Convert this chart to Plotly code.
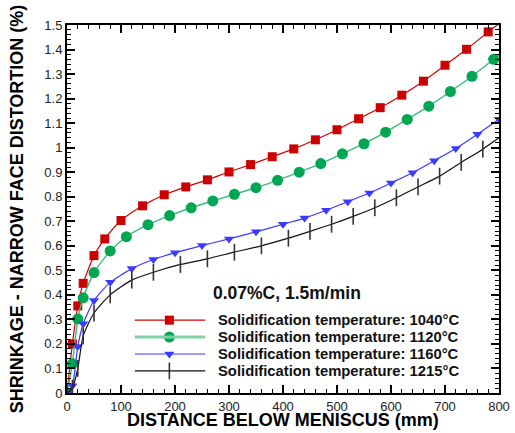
import plotly.graph_objects as go

# ---------------- data ----------------
x_1040 = [0, 10, 20, 30, 50, 70, 100, 140, 180, 220, 260, 300, 340, 380, 420, 460, 500, 540, 580, 620, 660, 700, 740, 780, 800]
y_1040 = [0, 0.20, 0.355, 0.447, 0.56, 0.628, 0.703, 0.763, 0.808, 0.84, 0.869, 0.901, 0.931, 0.963, 0.995, 1.032, 1.073, 1.118, 1.163, 1.214, 1.271, 1.336, 1.401, 1.472, 1.505]

x_1120 = [0, 10, 20, 30, 50, 80, 110, 150, 190, 230, 270, 310, 350, 390, 430, 470, 510, 550, 590, 630, 670, 710, 750, 790, 800]
y_1120 = [0, 0.12, 0.302, 0.388, 0.491, 0.579, 0.637, 0.686, 0.723, 0.755, 0.783, 0.81, 0.837, 0.867, 0.90, 0.935, 0.975, 1.016, 1.063, 1.115, 1.169, 1.229, 1.291, 1.36, 1.377]

x_1160 = [0, 10, 20, 30, 50, 80, 120, 160, 200, 250, 300, 350, 400, 440, 480, 520, 560, 600, 640, 680, 720, 760, 800]
y_1160 = [0, 0.03, 0.19, 0.282, 0.377, 0.451, 0.507, 0.544, 0.572, 0.601, 0.628, 0.657, 0.688, 0.713, 0.745, 0.78, 0.815, 0.856, 0.898, 0.947, 0.997, 1.055, 1.116]

x_1215 = [0, 10, 20, 30, 50, 80, 120, 160, 210, 260, 310, 360, 410, 450, 490, 530, 570, 610, 650, 690, 730, 770, 800]
y_1215 = [0, 0.02, 0.10, 0.233, 0.326, 0.40, 0.46, 0.492, 0.524, 0.547, 0.574, 0.60, 0.631, 0.659, 0.688, 0.72, 0.755, 0.796, 0.84, 0.884, 0.94, 0.994, 1.04]

series_names = [
    "Solidification temperature: 1040°C",
    "Solidification temperature: 1120°C",
    "Solidification temperature: 1160°C",
    "Solidification temperature: 1215°C",
]
y_tickvals = [0, 0.1, 0.2, 0.3, 0.4, 0.5, 0.6, 0.7, 0.8, 0.9, 1.0, 1.1, 1.2, 1.3, 1.4, 1.5]
y_ticktext = ["0", "0.1", "0.2", "0.3", "0.4", "0.5", "0.6", "0.7", "0.8", "0.9", "1", "1.1", "1.2", "1.3", "1.4", "1.5"]
x_tickvals = [0, 100, 200, 300, 400, 500, 600, 700, 800]
annotation_text = "0.07%C, 1.5m/min"
x_title = "DISTANCE BELOW MENISCUS (mm)"
y_title = "SHRINKAGE - NARROW FACE DISTORTION (%)"

# ---------------- styles ----------------
styles = [
    dict(line=dict(color="#D40000", width=1.2), leg_line=dict(color="#D40000", width=1.2),
         marker=dict(symbol="square", size=9, color="#CC0000")),
    dict(line=dict(color="#3DBB7A", width=1.4), leg_line=dict(color="#7ED3A2", width=3),
         marker=dict(symbol="circle", size=11, color="#00A651")),
    dict(line=dict(color="#3B3BFF", width=1.2), leg_line=dict(color="#3B3BFF", width=1.2),
         marker=dict(symbol="triangle-down", size=9, color="#3B3BFF")),
    dict(line=dict(color="#111111", width=1.2), leg_line=dict(color="#111111", width=1.2),
         marker=dict(symbol="line-ns", size=12, color="#333333", line=dict(color="#333333", width=1.6))),
]
series = [(x_1040, y_1040), (x_1120, y_1120), (x_1160, y_1160), (x_1215, y_1215)]
end_without_symbol = [True, True, False, True]

FONT = "Arial, Liberation Sans, sans-serif"

fig = go.Figure()

for (xs, ys), st, name, skip_end in zip(series, styles, series_names, end_without_symbol):
    mk = dict(st["marker"])
    if skip_end:
        mk["opacity"] = [0 if v == 800 else 1 for v in xs]
    fig.add_trace(go.Scatter(
        x=xs, y=ys, name=name, mode="lines+markers", showlegend=False,
        line=dict(**st["line"], shape="spline", smoothing=0.6),
        marker=mk,
    ))

# ---------------- hand-built legend (inside plot, overlay axes 0..1) ----------------
leg_x0, leg_x1, leg_xm, leg_xt = 0.157, 0.320, 0.237, 0.346
leg_rows = [0.198, 0.152, 0.106, 0.060]
shapes = []
annotations = []
for st, name, yr in zip(styles, series_names, leg_rows):
    shapes.append(dict(type="line", xref="paper", yref="paper", x0=leg_x0, x1=leg_x1, y0=yr, y1=yr,
                       line=st["leg_line"]))
    fig.add_trace(go.Scatter(x=[leg_xm], y=[yr], xaxis="x2", yaxis="y2", mode="markers",
                             marker=st["marker"], showlegend=False, hoverinfo="skip"))
    annotations.append(dict(text="<b>" + name + "</b>", x=leg_xt, y=yr, xref="paper", yref="paper",
                            xanchor="left", yanchor="middle", showarrow=False,
                            font=dict(family=FONT, size=14.8, color="#111111")))

annotations.append(dict(
    text="<b>" + annotation_text + "</b>", x=0.51, y=0.272, xref="paper", yref="paper",
    xanchor="center", yanchor="middle", showarrow=False,
    font=dict(family=FONT, size=17.5, color="#111111"),
))

axis_font = dict(family=FONT, size=13, color="#222222")
title_font = dict(family=FONT, size=18, color="#000000")

# x-axis title placed as paper text below the tick labels
annotations.append(dict(
    text="<b>" + x_title + "</b>", x=0.5, y=-0.105, xref="paper", yref="paper",
    xanchor="center", yanchor="bottom", showarrow=False, font=title_font,
))

fig.update_layout(
    width=515, height=433,
    margin=dict(l=67, r=16, t=25, b=40),
    paper_bgcolor="white", plot_bgcolor="white",
    showlegend=False,
    shapes=shapes,
    annotations=annotations,
    xaxis=dict(
        range=[0, 800], tickvals=x_tickvals, automargin=False,
        showline=True, linecolor="black", linewidth=2, mirror="allticks",
        ticks="inside", ticklen=8, tickwidth=1.5, tickcolor="black",
        minor=dict(dtick=20, ticks="inside", ticklen=4, tickwidth=1, tickcolor="black"),
        showgrid=False, zeroline=False, tickfont=axis_font,
    ),
    yaxis=dict(
        range=[0, 1.5], tickvals=y_tickvals, ticktext=y_ticktext, automargin=False,
        showline=True, linecolor="black", linewidth=2, mirror="allticks",
        ticks="inside", ticklen=8, tickwidth=1.5, tickcolor="black",
        minor=dict(dtick=0.02, ticks="inside", ticklen=4, tickwidth=1, tickcolor="black"),
        showgrid=False, zeroline=False, tickfont=axis_font,
        title=dict(text="<b>" + y_title + "</b>", font=title_font, standoff=16),
    ),
    xaxis2=dict(overlaying="x", range=[0, 1], visible=False, fixedrange=True),
    yaxis2=dict(overlaying="y", range=[0, 1], visible=False, fixedrange=True),
)

fig.write_html("out.html")
